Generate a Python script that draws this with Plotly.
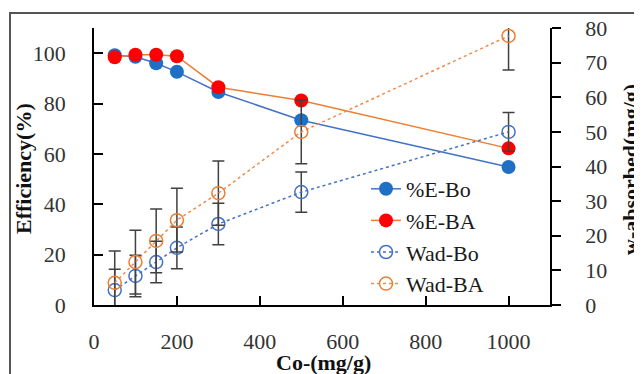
import plotly.graph_objects as go

co = [50, 100, 150, 200, 300, 500, 1000]
e_bo = [99.2, 98.6, 96.0, 92.6, 84.6, 73.4, 54.8]
e_ba = [98.4, 99.4, 99.4, 98.8, 86.5, 81.2, 62.2]
wad_bo = [4.3, 8.4, 12.4, 16.5, 23.4, 32.6, 50.0]
wad_ba = [6.4, 12.4, 18.5, 24.5, 32.3, 50.0, 77.7]
err_bo = [6.0, 6.0, 6.0, 6.0, 6.0, 5.8, 5.6]
err_ba = [9.2, 9.2, 9.2, 9.2, 9.3, 9.2, 9.8]

x_ticks = [0, 200, 400, 600, 800, 1000]
y1_ticks = [0, 20, 40, 60, 80, 100]
y2_ticks = [0, 10, 20, 30, 40, 50, 60, 70, 80]

FONT = "Liberation Serif, Times New Roman, Times, serif"
TXT = "#333333"
ERRC = "#404040"

fig = go.Figure()
fig.add_trace(go.Scatter(
    x=co, y=wad_bo, yaxis="y2", name="Wad-Bo", mode="lines+markers",
    line=dict(color="#4472C4", width=1.5, dash="dot"),
    marker=dict(symbol="circle-open", size=13, color="#4472C4", line=dict(width=1.5)),
    error_y=dict(type="data", array=err_bo, color=ERRC, thickness=1.5, width=6),
))
fig.add_trace(go.Scatter(
    x=co, y=wad_ba, yaxis="y2", name="Wad-BA", mode="lines+markers",
    line=dict(color="#F08A4B", width=1.5, dash="dot"),
    marker=dict(symbol="circle-open", size=13, color="#ED7D31", line=dict(width=1.5)),
    error_y=dict(type="data", array=err_ba, color=ERRC, thickness=1.5, width=6),
))
fig.add_trace(go.Scatter(
    x=co, y=e_bo, name="%E-Bo", mode="lines+markers",
    line=dict(color="#4472C4", width=1.5),
    marker=dict(symbol="circle", size=14, color="#1F6FC5"),
))
fig.add_trace(go.Scatter(
    x=co, y=e_ba, name="%E-BA", mode="lines+markers",
    line=dict(color="#ED7D31", width=1.5),
    marker=dict(symbol="circle", size=14, color="#FF0000"),
))

order = {"%E-Bo": 1, "%E-BA": 2, "Wad-Bo": 3, "Wad-BA": 4}
for tr in fig.data:
    tr.legendrank = order[tr.name]

# page has an 8px body margin; figure sized/offset to compensate
OFF = 8
W, H = 642 - OFF, 374 - OFF
L, T = 94 - OFF, 28 - OFF
pw, ph = 456, 277
R = W - L - pw
B = H - T - ph

def px_x(p):  # page pixel -> paper
    return (p - OFF - L) / pw

def px_y(p):
    return (T + ph - (p - OFF)) / ph

tickfont = dict(family=FONT, size=22, color=TXT)

fig.update_layout(
    width=W, height=H,
    margin=dict(l=L, r=R, t=T, b=B, autoexpand=False),
    paper_bgcolor="white", plot_bgcolor="white",
    font=dict(family=FONT, size=22, color=TXT),
    showlegend=True,
    legend=dict(x=px_x(366), y=px_y(168), xanchor="left", yanchor="top",
                bgcolor="rgba(0,0,0,0)", font=dict(family=FONT, size=22, color="#1a1a1a"),
                tracegroupgap=0),
    xaxis=dict(range=[0, 1100], tickvals=x_ticks, ticks="inside", ticklen=9,
               tickcolor="black", tickwidth=1.5, showline=True, linecolor="black",
               linewidth=1.5, showgrid=False, zeroline=False, ticklabelstandoff=16,
               automargin=False, tickfont=tickfont),
    yaxis=dict(range=[0, 110], tickvals=y1_ticks, ticks="inside", ticklen=9,
               tickcolor="black", tickwidth=1.5, showline=True, linecolor="black",
               linewidth=1.5, showgrid=False, zeroline=False, ticklabelstandoff=22,
               automargin=False, tickfont=tickfont),
    yaxis2=dict(range=[0, 80], tickvals=y2_ticks, overlaying="y", side="right",
                ticks="outside", ticklen=9, tickcolor="black", tickwidth=1.5,
                showline=True, linecolor="black", linewidth=1.5, showgrid=False,
                zeroline=False, ticklabelstandoff=20, automargin=False,
                tickfont=tickfont),
    annotations=[
        dict(text="<b>Efficiency(%)</b>", xref="paper", yref="paper",
             x=px_x(23), y=px_y(169), textangle=-90, showarrow=False,
             xanchor="center", yanchor="middle", font=dict(family=FONT, size=22, color="#111")),
        dict(text="<b>Co-(mg/g)</b>", xref="paper", yref="paper",
             x=px_x(323), y=px_y(362), showarrow=False,
             xanchor="center", yanchor="middle", font=dict(family=FONT, size=22, color="#111")),
        dict(text="<b>w-absorbed(mg/g)</b>", xref="paper", yref="paper",
             x=px_x(630), y=px_y(170), textangle=-90, showarrow=False,
             xanchor="center", yanchor="middle", font=dict(family=FONT, size=22, color="#111")),
    ],
    shapes=[
        dict(type="rect", xref="paper", yref="paper",
             x0=px_x(10), x1=px_x(700), y0=px_y(430), y1=px_y(13),
             line=dict(color="#555555", width=2), layer="below"),
    ],
)

fig.write_html("out.html")
